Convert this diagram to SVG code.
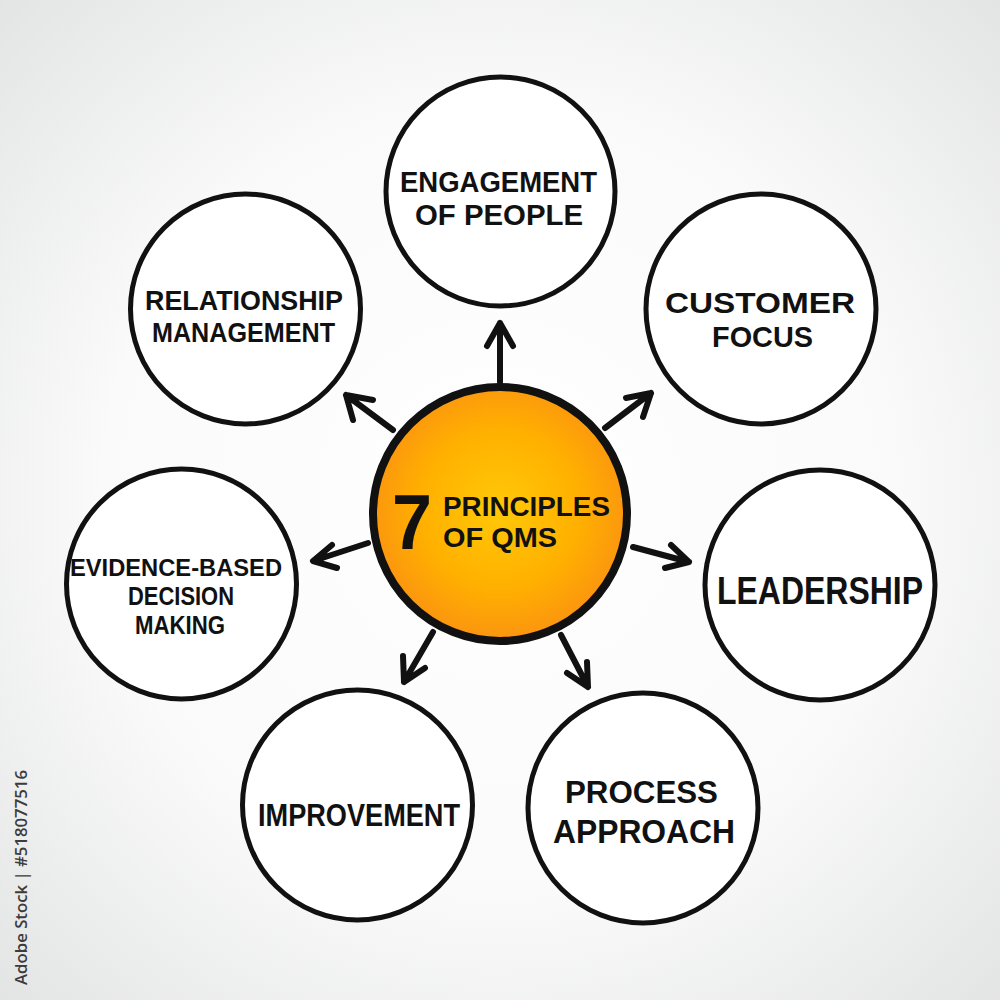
<svg xmlns="http://www.w3.org/2000/svg" width="1000" height="1000" viewBox="0 0 1000 1000">
  <defs>
    <radialGradient id="bg" cx="50%" cy="50%" r="72%">
      <stop offset="0" stop-color="#ffffff"/>
      <stop offset="0.55" stop-color="#fafafa"/>
      <stop offset="1" stop-color="#e2e3e3"/>
    </radialGradient>
    <radialGradient id="core" cx="50%" cy="48%" r="52%">
      <stop offset="0" stop-color="#ffc908"/>
      <stop offset="0.6" stop-color="#ffb000"/>
      <stop offset="1" stop-color="#fb9410"/>
    </radialGradient>
    <style>
      .node { fill: #ffffff; stroke: #111111; stroke-width: 5; }
      .core { fill: url(#core); stroke: #111111; stroke-width: 8; }
      .lbl { font-family: "Liberation Sans", Arial, sans-serif; font-weight: bold; fill: #111111; text-anchor: start; }
      .arrow { fill: none; stroke: #111111; stroke-width: 6; stroke-linecap: round; stroke-linejoin: round; }
      .credit { font-family: "Open Sans", "Liberation Sans", sans-serif; fill: #3c3c3c; font-size: 17px; font-weight: 600; }
    </style>
  </defs>

  <rect width="1000" height="1000" fill="url(#bg)"/>

  <g id="connectors">
    <path class="arrow" d="M500,382 L500,323 M487,346 L500,323 L513,346"/>
    <path class="arrow" d="M605,428 L651,393 M626,398 L651,393 L643,417"/>
    <path class="arrow" d="M393,430 L346,395 M373,400 L346,395 L353,420"/>
    <path class="arrow" d="M633,547 L689,562 M671,545 L689,562 L665,568"/>
    <path class="arrow" d="M368,543 L313,561 M332,545 L313,561 L337,568"/>
    <path class="arrow" d="M433,632 L404,682 M403,656 L404,682 L425,668"/>
    <path class="arrow" d="M561,635 L588,687 M567,673 L588,687 L587,662"/>
  </g>

  <g id="center">
    <circle class="core" cx="500" cy="514" r="127"/>
    <text class="lbl" x="392" y="549" font-size="78" textLength="40" lengthAdjust="spacingAndGlyphs">7</text>
    <text class="lbl" x="443" y="516" font-size="27" textLength="167" lengthAdjust="spacingAndGlyphs">PRINCIPLES</text>
    <text class="lbl" x="443" y="547" font-size="27" textLength="114" lengthAdjust="spacingAndGlyphs">OF QMS</text>
  </g>

  <g id="engagement-of-people">
    <circle class="node" cx="500.5" cy="191.5" r="114.5"/>
    <text class="lbl" x="400" y="192" font-size="29" textLength="197" lengthAdjust="spacingAndGlyphs">ENGAGEMENT</text>
    <text class="lbl" x="415" y="225" font-size="29" textLength="168" lengthAdjust="spacingAndGlyphs">OF PEOPLE</text>
  </g>

  <g id="customer-focus">
    <circle class="node" cx="761" cy="309" r="115"/>
    <text class="lbl" x="665" y="313" font-size="30" textLength="190" lengthAdjust="spacingAndGlyphs">CUSTOMER</text>
    <text class="lbl" x="712" y="347" font-size="30" textLength="101" lengthAdjust="spacingAndGlyphs">FOCUS</text>
  </g>

  <g id="leadership">
    <circle class="node" cx="820" cy="585" r="115"/>
    <text class="lbl" x="717" y="604" font-size="38" textLength="206" lengthAdjust="spacingAndGlyphs">LEADERSHIP</text>
  </g>

  <g id="process-approach">
    <circle class="node" cx="643" cy="808" r="115"/>
    <text class="lbl" x="565" y="803" font-size="31" textLength="153" lengthAdjust="spacingAndGlyphs">PROCESS</text>
    <text class="lbl" x="553" y="843" font-size="33" textLength="182" lengthAdjust="spacingAndGlyphs">APPROACH</text>
  </g>

  <g id="improvement">
    <circle class="node" cx="357.5" cy="805" r="115"/>
    <text class="lbl" x="258" y="826" font-size="31" textLength="202" lengthAdjust="spacingAndGlyphs">IMPROVEMENT</text>
  </g>

  <g id="evidence-based-decision-making">
    <circle class="node" cx="181.5" cy="584" r="115"/>
    <text class="lbl" x="70" y="576" font-size="24" textLength="212" lengthAdjust="spacingAndGlyphs">EVIDENCE-BASED</text>
    <text class="lbl" x="128" y="605" font-size="25" textLength="106" lengthAdjust="spacingAndGlyphs">DECISION</text>
    <text class="lbl" x="135" y="634" font-size="25" textLength="90" lengthAdjust="spacingAndGlyphs">MAKING</text>
  </g>

  <g id="relationship-management">
    <circle class="node" cx="245.5" cy="309" r="115"/>
    <text class="lbl" x="145" y="310" font-size="28" textLength="198" lengthAdjust="spacingAndGlyphs">RELATIONSHIP</text>
    <text class="lbl" x="152" y="342" font-size="28" textLength="183" lengthAdjust="spacingAndGlyphs">MANAGEMENT</text>
  </g>

  <text class="credit" transform="translate(27,985) rotate(-90)" textLength="215" lengthAdjust="spacingAndGlyphs">Adobe Stock | #518077516</text>
</svg>
